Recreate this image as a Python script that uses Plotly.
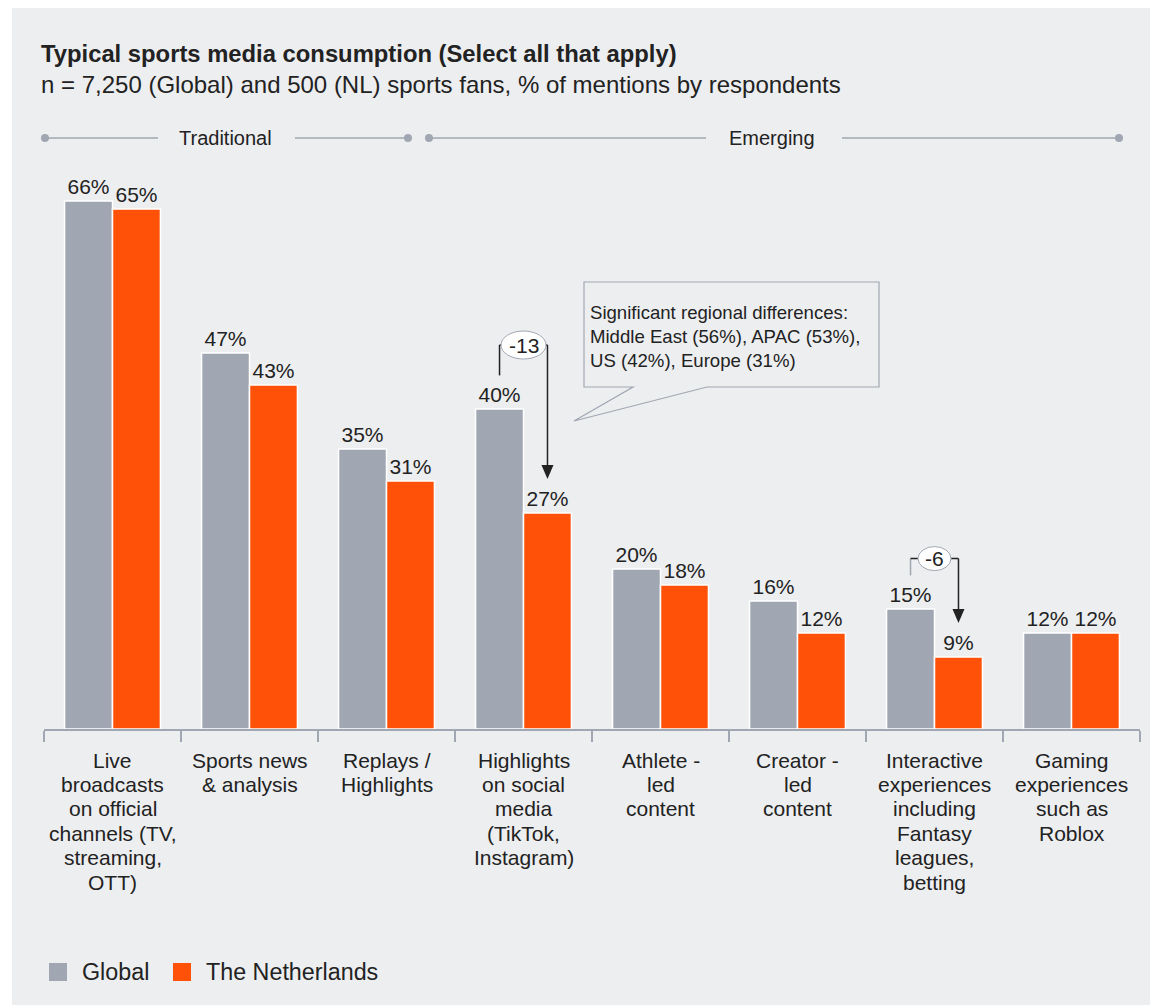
import plotly.graph_objects as go

# ---- data -------------------------------------------------------------
category_labels = [
    "Live<br>broadcasts<br>on official<br>channels (TV,<br>streaming,<br>OTT)",
    "Sports news<br>& analysis",
    "Replays /<br>Highlights",
    "Highlights<br>on social<br>media<br>(TikTok,<br>Instagram)",
    "Athlete -<br>led<br>content",
    "Creator -<br>led<br>content",
    "Interactive<br>experiences<br>including<br>Fantasy<br>leagues,<br>betting",
    "Gaming<br>experiences<br>such as<br>Roblox",
]
global_values = [66, 47, 35, 40, 20, 16, 15, 12]
nl_values = [65, 43, 31, 27, 18, 12, 9, 12]
series_names = ["Global", "The Netherlands"]

# categories with a highlighted gap between the two series
highlight_idx = [3, 6]

group_names = ["Traditional", "Emerging"]

title = "Typical sports media consumption (Select all that apply)"
subtitle = "n = 7,250 (Global) and 500 (NL) sports fans, % of mentions by respondents"
callout_text = ("Significant regional differences:<br>"
                "Middle East (56%), APAC (53%),<br>US (42%), Europe (31%)")

# ---- style ------------------------------------------------------------
BG = "#EDEEF0"
GREY = "#A1A7B2"
ORANGE = "#FF5208"
INK = "#222222"
FONT = "Liberation Sans, Arial, Helvetica, sans-serif"

W, H = 1150, 1005
L, R, T, B = 44, 10, 169, 276
PW, PH = W - L - R, H - T - B
Y_MAX = 70

# how far (in axis units) each bracket rises above its Global bar
bracket_rise = {3: 8.0, 6: 6.3}


def xp(px):
    return (px - L) / PW


def yp(py):
    return (H - B - py) / PH


fig = go.Figure()
for name, vals, color in [(series_names[0], global_values, GREY),
                          (series_names[1], nl_values, ORANGE)]:
    fig.add_trace(go.Bar(
        x=category_labels, y=vals, name=name,
        marker=dict(color=color, line=dict(color="white", width=1.5)),
        texttemplate="%{y}%", textposition="outside",
        textfont=dict(size=21, color=INK, family=FONT),
        constraintext="none", cliponaxis=False, showlegend=False,
        hoverinfo="skip",
    ))

shapes = []
annotations = []

# panel background
shapes.append(dict(type="rect", xref="paper", yref="paper", layer="below",
                   x0=xp(12), x1=xp(W + 5), y0=yp(8), y1=yp(H + 5),
                   fillcolor=BG, line=dict(width=0)))

# title and subtitle
annotations.append(dict(text=f"<b>{title}</b>", xref="paper", yref="paper",
                        x=xp(39), y=yp(53), xanchor="left", yanchor="middle",
                        showarrow=False, font=dict(size=23.8, color=INK, family=FONT)))
annotations.append(dict(text=subtitle, xref="paper", yref="paper",
                        x=xp(39), y=yp(84), xanchor="left", yanchor="middle",
                        showarrow=False, font=dict(size=24, color=INK, family=FONT)))

# group headers: dot - line - label - line - dot
HY = 138
groups = [(45, 158, 295, 408, 225), (429, 706, 842, 1119, 772)]
for gname, (a, b, c, d, mid) in zip(group_names, groups):
    for x0, x1 in [(a, b), (c, d)]:
        shapes.append(dict(type="line", xref="paper", yref="paper",
                           x0=xp(x0), x1=xp(x1), y0=yp(HY), y1=yp(HY),
                           line=dict(color=GREY, width=1.5)))
    for cx in (a, d):
        shapes.append(dict(type="circle", xref="paper", yref="paper",
                           x0=xp(cx - 4), x1=xp(cx + 4), y0=yp(HY - 4), y1=yp(HY + 4),
                           fillcolor=GREY, line=dict(width=0)))
    annotations.append(dict(text=gname, xref="paper", yref="paper",
                            x=xp(mid), y=yp(HY), xanchor="center", yanchor="middle",
                            showarrow=False, font=dict(size=20, color=INK, family=FONT)))

# category labels, one line at a time for tight line spacing
for i, lab in enumerate(category_labels):
    for k, line in enumerate(lab.split("<br>")):
        annotations.append(dict(text=line, xref="x", yref="paper", x=i, y=0,
                                xanchor="center", yanchor="middle",
                                yshift=-(31 + 24.4 * k), showarrow=False,
                                font=dict(size=21, color=INK, family=FONT)))

# gap brackets with arrow
BW = 0.175  # offset of each bar centre from the category centre
for i in highlight_idx:
    g, n = global_values[i], nl_values[i]
    diff = f"{n - g}"
    top = g + bracket_rise[i]
    left_col = INK if len(diff) > 2 else GREY
    shapes.append(dict(type="line", xref="x", yref="y", x0=i - BW, x1=i - BW,
                       y0=g + 4.2, y1=top, line=dict(color=left_col, width=1.5)))
    shapes.append(dict(type="line", xref="x", yref="y", x0=i - BW, x1=i + BW,
                       y0=top, y1=top, line=dict(color=INK, width=1.5)))
    shapes.append(dict(type="line", xref="x", yref="y", x0=i + BW, x1=i + BW,
                       y0=top, y1=n + 4.25 + 1.6, line=dict(color=INK, width=1.5)))
    shapes.append(dict(type="path", xref="x", yref="y",
                       xsizemode="pixel", ysizemode="pixel",
                       xanchor=i + BW, yanchor=n + 4.25,
                       path="M0,0 L-6,14 L6,14 Z", fillcolor=INK, line=dict(width=0)))
    ew = 9 + 12 * len(diff)
    eh = 16 + 4 * len(diff)
    shapes.append(dict(type="circle", xref="x", yref="y",
                       xsizemode="pixel", ysizemode="pixel",
                       xanchor=i, yanchor=top,
                       x0=-ew / 2, x1=ew / 2, y0=-eh / 2, y1=eh / 2,
                       fillcolor="white", line=dict(color=GREY, width=1)))
    annotations.append(dict(text=diff, xref="x", yref="y", x=i, y=top,
                            xanchor="center", yanchor="middle", showarrow=False,
                            font=dict(size=21, color=INK, family=FONT)))

# speech-bubble callout
bx0, bx1, by0, by1 = 584, 879, 282, 387
path = (f"M{xp(bx0)},{yp(by0)} L{xp(bx1)},{yp(by0)} L{xp(bx1)},{yp(by1)} "
        f"L{xp(707)},{yp(by1)} L{xp(574)},{yp(421)} L{xp(633)},{yp(by1)} "
        f"L{xp(bx0)},{yp(by1)} Z")
shapes.append(dict(type="path", xref="paper", yref="paper", path=path,
                   fillcolor=BG, line=dict(color=GREY, width=1.2)))
annotations.append(dict(text=callout_text, xref="paper", yref="paper",
                        x=xp(588), y=yp(300), xanchor="left", yanchor="top",
                        align="left", showarrow=False,
                        font=dict(size=18.6, color=INK, family=FONT)))

# legend
lx = [(49, 80), (173, 204)]
for (sx, tx), name, color in zip(lx, series_names, [GREY, ORANGE]):
    shapes.append(dict(type="rect", xref="paper", yref="paper",
                       x0=xp(sx), x1=xp(sx + 18), y0=yp(963), y1=yp(981),
                       fillcolor=color, line=dict(width=0)))
    annotations.append(dict(text=name, xref="paper", yref="paper",
                            x=xp(tx), y=yp(972), xanchor="left", yanchor="middle",
                            showarrow=False, font=dict(size=23.3, color=INK, family=FONT)))

fig.update_layout(
    width=W, height=H, autosize=False,
    margin=dict(l=L, r=R, t=T, b=B, pad=0),
    paper_bgcolor="white", plot_bgcolor="rgba(0,0,0,0)",
    barmode="group", bargap=0.3, bargroupgap=0,
    font=dict(family=FONT, color=INK),
    shapes=shapes, annotations=annotations,
    showlegend=False,
    xaxis=dict(type="category", range=[-0.5, len(category_labels) - 0.5],
               showline=True, linecolor=GREY, linewidth=2,
               ticks="outside", tickson="boundaries", ticklen=11,
               tickwidth=2, tickcolor=GREY, showticklabels=False,
               showgrid=False, zeroline=False, fixedrange=True),
    yaxis=dict(range=[0, Y_MAX], visible=False, fixedrange=True),
)

fig.write_html("out.html")
